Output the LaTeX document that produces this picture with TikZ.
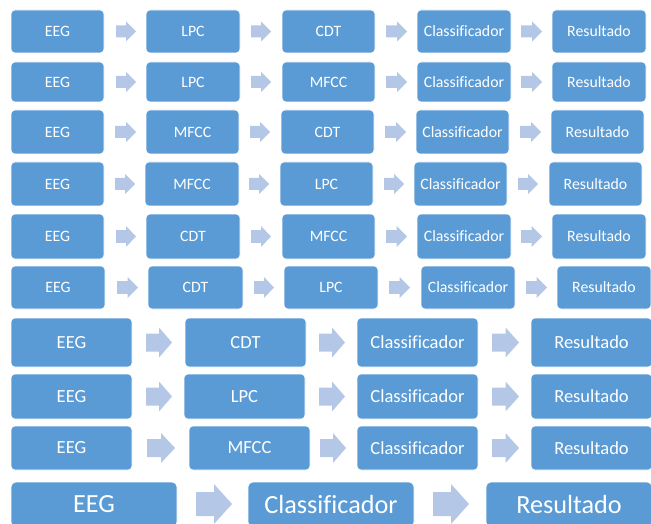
\documentclass[tikz,border=0pt]{standalone}
\usepackage{fontspec}
\setmainfont{Carlito}[Ligatures=NoCommon]
\definecolor{boxblue}{HTML}{5B9BD5}
\definecolor{arrblue}{HTML}{B4C7E7}
\tikzset{
  box/.style={fill=boxblue, draw=white, line width=0.6pt, rounded corners=4pt, text=white, inner sep=0pt, align=center},
  small/.style={box, font=\fontsize{15.8}{18}\selectfont},
  medium/.style={box, font=\fontsize{18.5}{22}\selectfont},
  large/.style={box, rounded corners=5pt, font=\fontsize{26.2}{30}\selectfont},
  arrowfill/.style={fill=arrblue}
}
% box: name, x1, x2, y1, y2, text, style
\newcommand\bx[7]{\node[#7, minimum width={(#3-#2)*1pt}, minimum height={(#5-#4)*1pt}] (#1) at ({(#2+#3)/2},{(#4+#5)/2}) {#6};}
% block arrow: x1, x2, cy, h
\newcommand\arr[4]{%
  \pgfmathsetmacro\aw{#2-#1}%
  \pgfmathsetmacro\ahd{min(\aw,#4)/2}%
  \pgfmathsetmacro\ahx{#2-\ahd}%
  \pgfmathsetmacro\sa{#3-0.3*#4}\pgfmathsetmacro\sb{#3+0.3*#4}%
  \pgfmathsetmacro\ha{#3-0.5*#4}\pgfmathsetmacro\hb{#3+0.5*#4}%
  \fill[arrowfill] (#1,\sa) -- (\ahx,\sa) -- (\ahx,\ha) -- (#2,#3) -- (\ahx,\hb) -- (\ahx,\sb) -- (#1,\sb) -- cycle;}
\begin{document}
\begin{tikzpicture}[x=1pt,y=-1pt]
\useasboundingbox (0,0) rectangle (651,524);
% Row 1
\bx{a1}{11}{104}{10}{53}{EEG}{small}
\bx{a2}{146}{240}{10}{53}{LPC}{small}
\bx{a3}{282}{375}{10}{53}{CDT}{small}
\bx{a4}{417}{511}{10}{53}{Classificador}{small}
\bx{a5}{552}{646}{10}{53}{Resultado}{small}
\arr{116}{136}{31.5}{20}\arr{251}{271}{31.5}{20}\arr{386}{407}{31.5}{20}\arr{521}{542}{31.5}{20}
% Row 2
\bx{b1}{11}{104}{62}{102}{EEG}{small}
\bx{b2}{146}{240}{62}{102}{LPC}{small}
\bx{b3}{282}{375}{62}{102}{MFCC}{small}
\bx{b4}{417}{511}{62}{102}{Classificador}{small}
\bx{b5}{552}{646}{62}{102}{Resultado}{small}
\arr{116}{136}{82}{20}\arr{251}{271}{82}{20}\arr{386}{407}{82}{20}\arr{521}{542}{82}{20}
% Row 3
\bx{c1}{11}{104}{110}{154}{EEG}{small}
\bx{c2}{146}{239}{110}{154}{MFCC}{small}
\bx{c3}{281}{374}{110}{154}{CDT}{small}
\bx{c4}{416}{509}{110}{154}{Classificador}{small}
\bx{c5}{551}{644}{110}{154}{Resultado}{small}
\arr{115}{136}{132}{20}\arr{250}{270}{132}{20}\arr{385}{406}{132}{20}\arr{520}{541}{132}{20}
% Row 4
\bx{d1}{11}{104}{162}{206}{EEG}{small}
\bx{d2}{145}{239}{162}{206}{MFCC}{small}
\bx{d3}{280}{373}{162}{206}{LPC}{small}
\bx{d4}{414}{507}{162}{206}{Classificador}{small}
\bx{d5}{549}{642}{162}{206}{Resultado}{small}
\arr{115}{135}{184}{20}\arr{249}{269}{184}{20}\arr{384}{404}{184}{20}\arr{518}{538}{184}{20}
% Row 5
\bx{e1}{11}{104}{214}{259}{EEG}{small}
\bx{e2}{146}{240}{214}{259}{CDT}{small}
\bx{e3}{282}{375}{214}{259}{MFCC}{small}
\bx{e4}{417}{511}{214}{259}{Classificador}{small}
\bx{e5}{552}{646}{214}{259}{Resultado}{small}
\arr{116}{136}{236.5}{21}\arr{251}{271}{236.5}{21}\arr{386}{407}{236.5}{21}\arr{521}{542}{236.5}{21}
% Row 6
\bx{f1}{11}{105}{266}{309}{EEG}{small}
\bx{f2}{148}{243}{266}{309}{CDT}{small}
\bx{f3}{284}{378}{266}{309}{LPC}{small}
\bx{f4}{421}{515}{266}{309}{Classificador}{small}
\bx{f5}{557}{651}{266}{309}{Resultado}{small}
\arr{117}{138}{287.5}{21}\arr{254}{274}{287.5}{21}\arr{389}{410}{287.5}{21}\arr{526}{547}{287.5}{21}
% Row 7
\bx{g1}{11}{132}{318}{367}{EEG}{medium}
\bx{g2}{185}{306}{318}{367}{CDT}{medium}
\bx{g3}{357}{478}{318}{367}{Classificador}{medium}
\bx{g4}{531}{652}{318}{367}{Resultado}{medium}
\arr{146}{172}{342.5}{30}\arr{319}{345}{342.5}{30}\arr{492}{519}{342.5}{30}
% Row 8
\bx{h1}{11}{132}{374}{419}{EEG}{medium}
\bx{h2}{184}{305}{374}{419}{LPC}{medium}
\bx{h3}{357}{478}{374}{419}{Classificador}{medium}
\bx{h4}{531}{652}{374}{419}{Resultado}{medium}
\arr{146}{172}{396.5}{30}\arr{319}{345}{396.5}{30}\arr{492}{519}{396.5}{30}
% Row 9
\bx{i1}{11}{132}{426}{470}{EEG}{medium}
\bx{i2}{189}{310}{426}{470}{MFCC}{medium}
\bx{i3}{357}{478}{426}{470}{Classificador}{medium}
\bx{i4}{531}{652}{426}{470}{Resultado}{medium}
\arr{147}{175}{448}{30}\arr{320}{346}{448}{30}\arr{492}{519}{448}{30}
% Row 10
\bx{j1}{11}{177}{482}{527}{EEG}{large}
\bx{j2}{248}{414}{482}{527}{Classificador}{large}
\bx{j3}{486}{652}{482}{527}{Resultado}{large}
\arr{196}{232}{504}{40}\arr{433}{469}{504}{40}
\end{tikzpicture}
\end{document}
